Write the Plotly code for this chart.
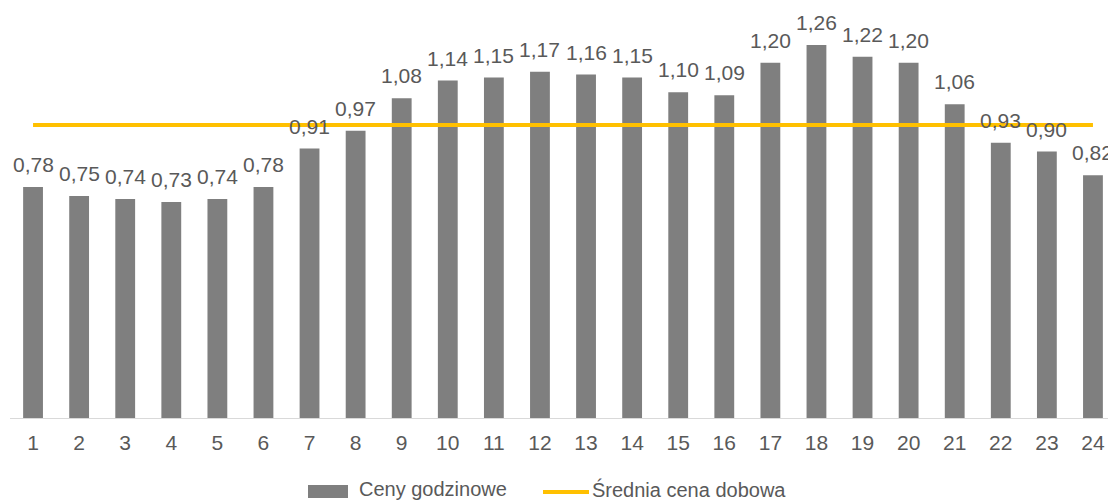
import plotly.graph_objects as go

hours = [str(h) for h in range(1, 25)]
prices = [0.78, 0.75, 0.74, 0.73, 0.74, 0.78, 0.91, 0.97, 1.08, 1.14, 1.15, 1.17,
          1.16, 1.15, 1.10, 1.09, 1.20, 1.26, 1.22, 1.20, 1.06, 0.93, 0.90, 0.82]
daily_avg = 0.99
labels = [f"{v:.2f}".replace(".", ",") for v in prices]
series_names = ["Ceny godzinowe", "Średnia cena dobowa"]

FONT = "Liberation Sans, Arial, sans-serif"
TXT = "#595959"
BAR_C = "#7f7f7f"
LINE_C = "#FFC000"

# page body has an 8px margin, so the figure is drawn 8px in from the top-left
OFF = 8
W, H = 1116 - OFF, 503 - OFF
L, R, T, B = 2, 0, 0, 85
PW, PH = W - L - R, H - T - B


def px(x):
    return (x - OFF - L) / PW


def py(y):
    return (H - B - (y - OFF)) / PH


fig = go.Figure()
fig.add_trace(go.Bar(
    x=hours, y=prices, name=series_names[0],
    marker=dict(color=BAR_C, line=dict(width=0)),
    width=0.43, showlegend=False,
))
fig.add_trace(go.Scatter(
    x=hours, y=[daily_avg] * len(hours), name=series_names[1],
    mode="lines", line=dict(color=LINE_C, width=4),
    showlegend=False,
))

# data labels above the bars (category index positions)
for i, (v, t) in enumerate(zip(prices, labels)):
    fig.add_annotation(x=i, y=v, text=t, xref="x", yref="y",
                       xanchor="center", yanchor="bottom", yshift=9,
                       showarrow=False,
                       font=dict(family=FONT, size=21, color=TXT))

# manual legend (swatches + labels)
fig.add_shape(type="rect", xref="paper", yref="paper",
              x0=px(308), x1=px(348), y0=py(498), y1=py(485),
              fillcolor=BAR_C, line=dict(width=0))
fig.add_shape(type="line", xref="paper", yref="paper",
              x0=px(543), x1=px(589), y0=py(492), y1=py(492),
              line=dict(color=LINE_C, width=4))
fig.add_annotation(text=series_names[0], xref="paper", yref="paper",
                   x=px(357), y=py(489), xanchor="left", yanchor="middle",
                   showarrow=False, font=dict(family=FONT, size=20, color=TXT))
fig.add_annotation(text=series_names[1], xref="paper", yref="paper",
                   x=px(590), y=py(489), xanchor="left", yanchor="middle",
                   showarrow=False, font=dict(family=FONT, size=20, color=TXT))

fig.update_layout(
    width=W, height=H,
    margin=dict(l=L, r=R, t=T, b=B, autoexpand=False),
    paper_bgcolor="white", plot_bgcolor="white",
    font=dict(family=FONT, size=21, color=TXT),
    showlegend=False,
)
fig.update_xaxes(
    type="category", showline=True, linecolor="#d9d9d9", linewidth=1,
    ticks="", showgrid=False, tickfont=dict(family=FONT, size=21, color=TXT),
    range=[-0.5, 23.5], automargin=False, ticklabelstandoff=6,
)
fig.update_yaxes(range=[0, 1.385], visible=False, showgrid=False, automargin=False)

fig.write_html("out.html")
